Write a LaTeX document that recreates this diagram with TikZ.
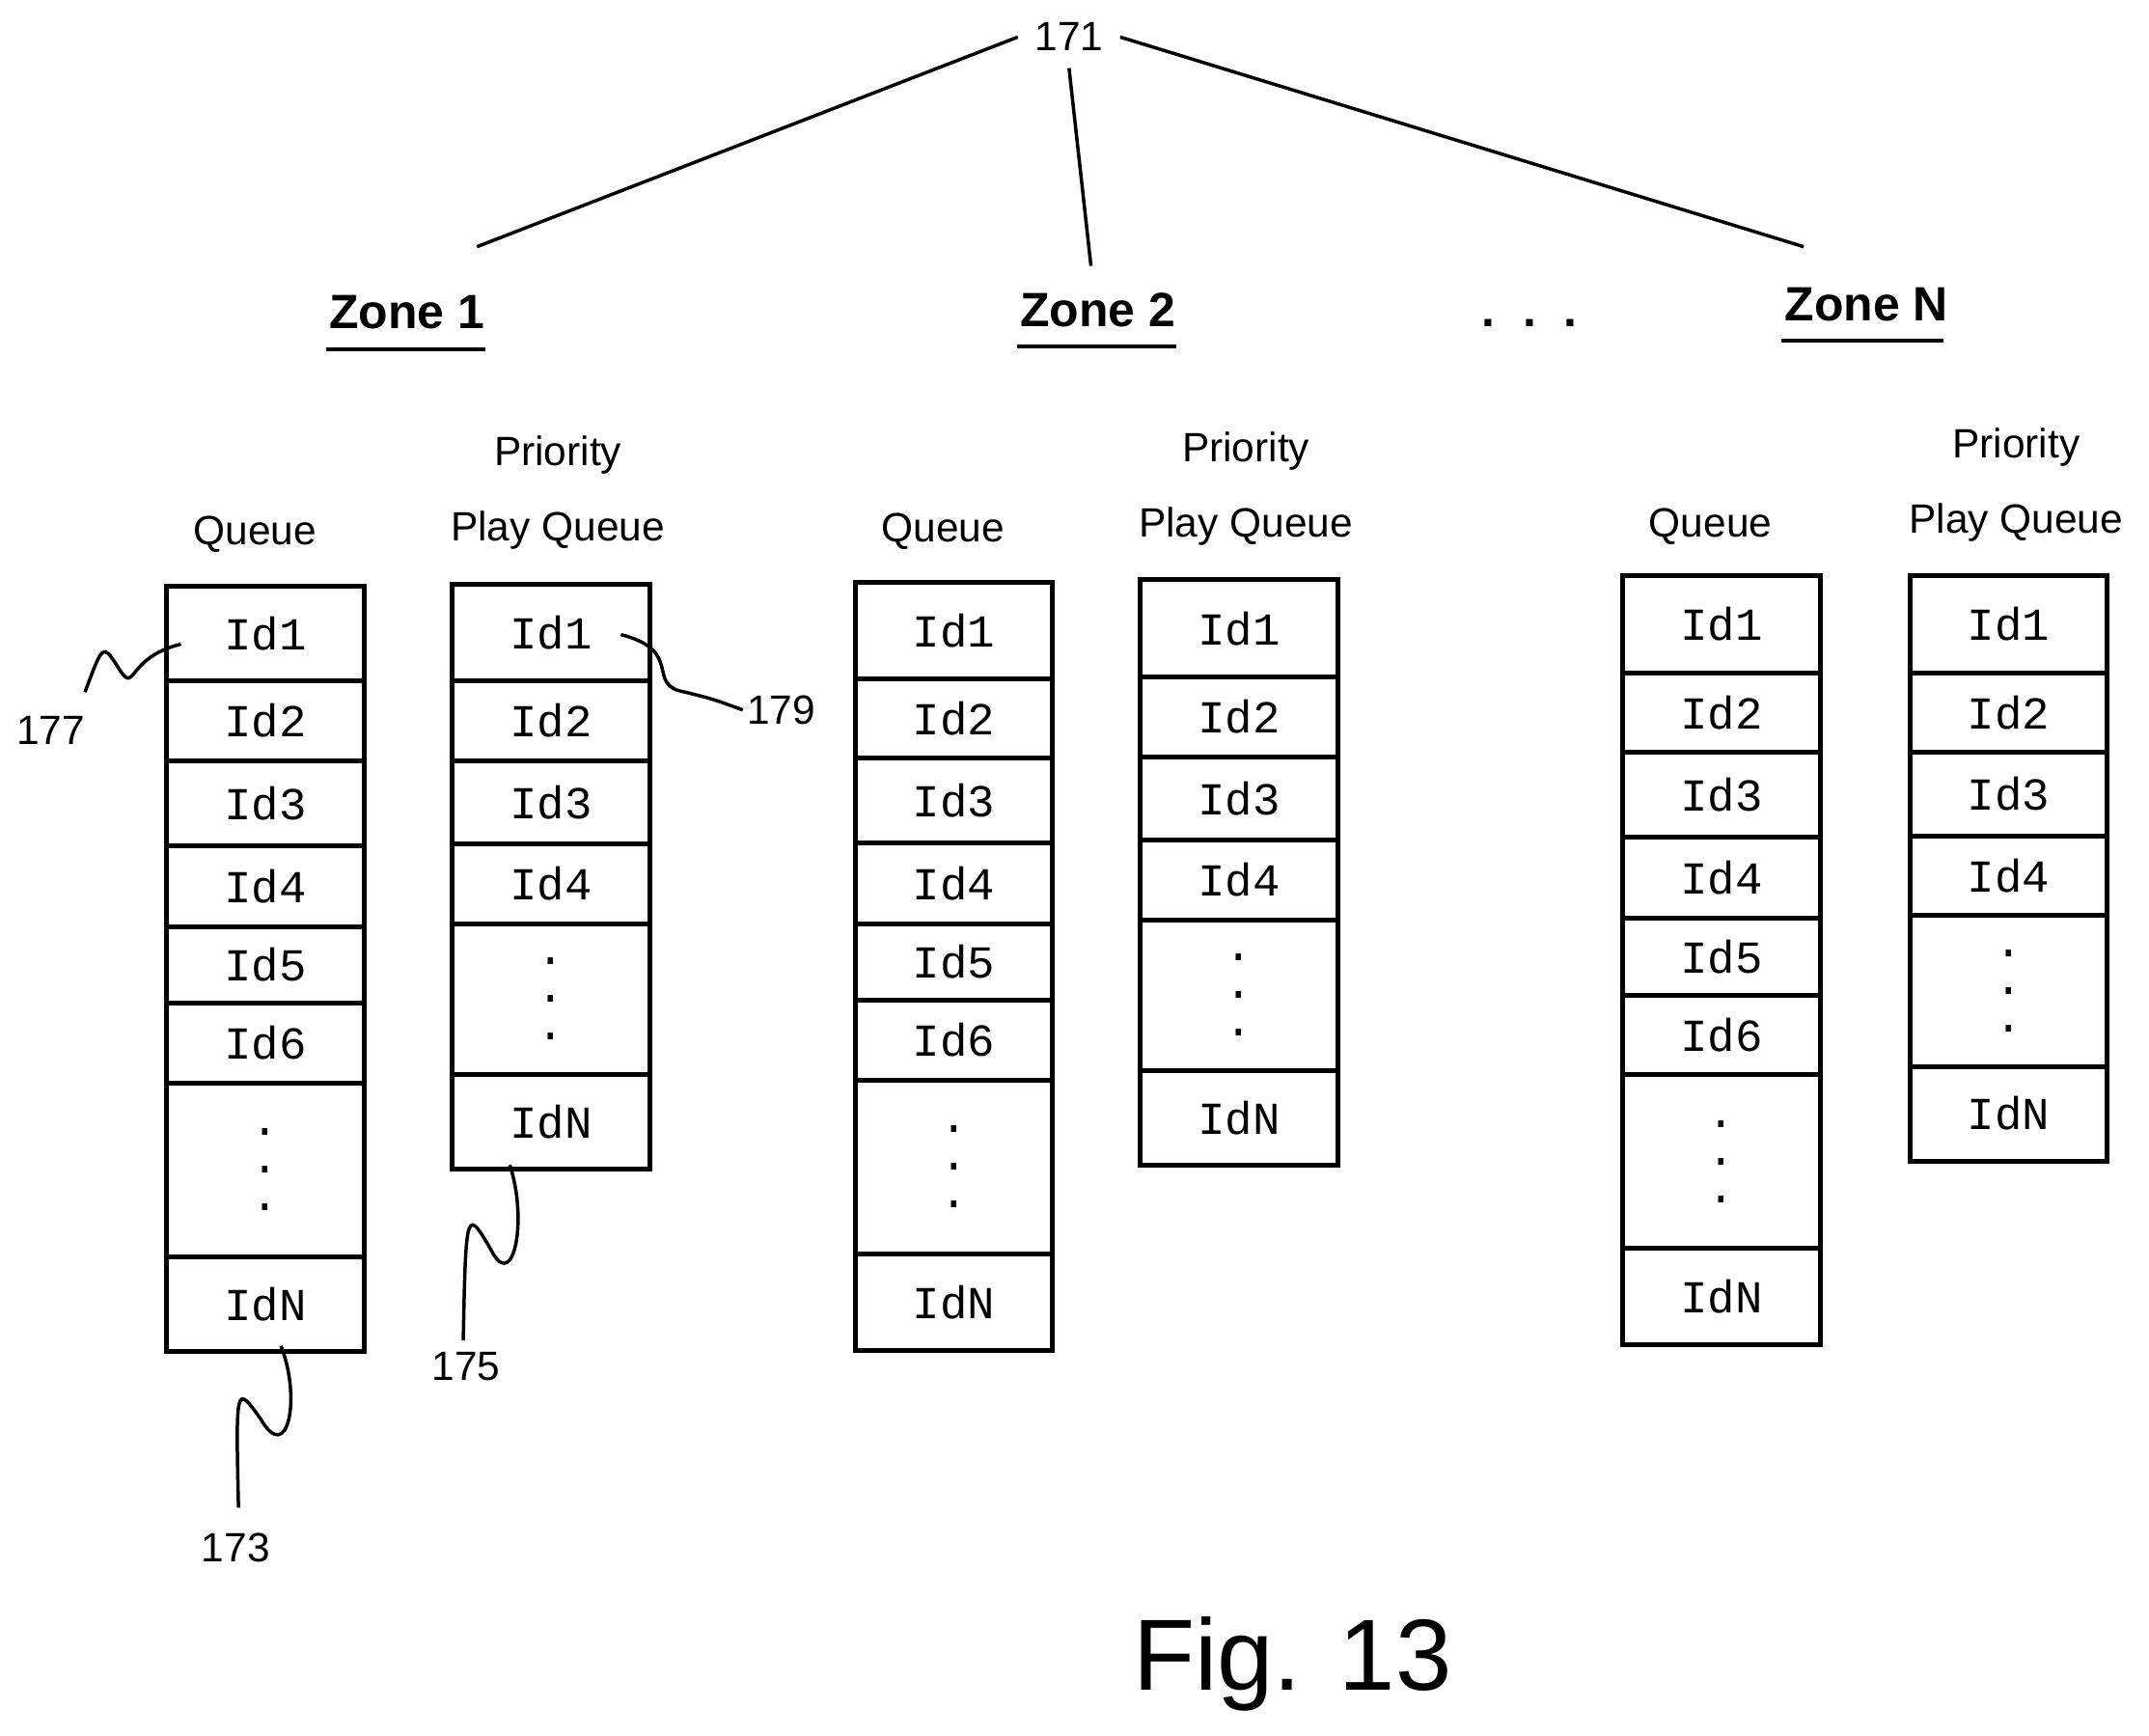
\documentclass[tikz,border=0pt]{standalone}
\usepackage{fontspec}
\setmainfont{Liberation Sans}
\newfontfamily\idfont{Liberation Mono}
\usetikzlibrary{positioning}
\tikzset{cell/.style={draw,line width=1pt,minimum width=1.44cm,inner sep=0pt,outer sep=0pt,font=\idfont\fontsize{9.5}{10}\selectfont},
  lbl/.style={font=\fontsize{8.5}{10}\selectfont},
  zone/.style={font=\bfseries\fontsize{10}{12}\selectfont},
  lead/.style={line width=0.7pt}}
\newcommand{\dts}{\shortstack{.\\[1.2mm].\\[1.2mm].}}
% column of cells: name, x, top, list of label/height
\newcommand{\qcol}[4]{%
  \coordinate (#1-b0) at (#2,#3);
  \foreach \lab/\h [count=\i, remember=\i as \j (initially 0)] in {#4}{
    \node[cell,minimum height=\h cm,anchor=north] (#1-\i) at (#1-b\j) {\lab};
    \coordinate (#1-b\i) at (#1-\i.south);}}
\begin{document}
\begin{tikzpicture}
\useasboundingbox (0,0) rectangle (15.68,-12.66);

		% top label and zones
		\node[lbl] (n171) at (7.80,-0.27) {171};
		\node[zone] (z1) at (2.97,-2.28) {Zone 1};
		\node[zone] (z2) at (8.01,-2.26) {Zone 2};
		\node[zone] (zn) at (13.62,-2.22) {Zone N};
		\node[zone] (zdots) at (11.16,-2.36) {.\hspace{2mm}.\hspace{2mm}.};
		\draw[line width=0.8pt] (z1.south west) ++(0.1,-0.02) -- ++(1.16,0);
		\draw[line width=0.8pt] (z2.south west) ++(0.1,-0.02) -- ++(1.16,0);
		\draw[line width=0.8pt] (zn.south west) ++(0.1,-0.02) -- ++(1.18,0);
		\draw[lead] (n171.west) -- (3.48,-1.80);
		\draw[lead] (n171.south) -- (7.96,-1.94);
		\draw[lead] (n171.east) -- (13.16,-1.80);

		% column headings
		\foreach \x/\y in {1.86/3.90,6.88/3.88,12.48/3.84}
			\node[lbl] at (\x,-\y) {Queue};
		\foreach \x/\y in {4.07/3.32,9.09/3.29,14.71/3.26}{
			\node[lbl] at (\x,-\y) {Priority};
			\node[lbl] at (\x,-\y-0.55) {Play Queue};}

		% queues
		\qcol{qa}{1.935}{-4.28}{Id1/0.69,Id2/0.58,Id3/0.62,Id4/0.59,Id5/0.56,Id6/0.58,\dts/1.27,IdN/0.69}
		\qcol{pa}{4.02}{-4.26}{Id1/0.71,Id2/0.58,Id3/0.61,Id4/0.58,\dts/1.10,IdN/0.69}
		\qcol{qb}{6.96}{-4.25}{Id1/0.70,Id2/0.58,Id3/0.62,Id4/0.59,Id5/0.56,Id6/0.58,\dts/1.27,IdN/0.70}
		\qcol{pb}{9.04}{-4.23}{Id1/0.71,Id2/0.58,Id3/0.61,Id4/0.58,\dts/1.10,IdN/0.69}
		\qcol{qc}{12.56}{-4.20}{Id1/0.71,Id2/0.58,Id3/0.62,Id4/0.59,Id5/0.56,Id6/0.58,\dts/1.27,IdN/0.70}
		\qcol{pc}{14.655}{-4.20}{Id1/0.71,Id2/0.58,Id3/0.61,Id4/0.58,\dts/1.10,IdN/0.69}

		% reference numerals
		\node[lbl] (n177) at (0.37,-5.33) {177};
		\node[lbl] (n179) at (5.70,-5.18) {179};
		\node[lbl] (n175) at (3.40,-9.97) {175};
		\node[lbl] (n173) at (1.72,-11.29) {173};
		\coordinate (c177) at (1.32,-4.70);
		\coordinate (c179) at (4.53,-4.63);
		\coordinate (c175) at (3.72,-8.50);
		\coordinate (c173) at (2.05,-9.82);
		\draw[lead] (c177) .. controls (0.9,-4.8) and (1.0,-5.1) .. (0.85,-4.85)
			.. controls (0.75,-4.7) .. (0.62,-5.05);
		\draw[lead] (c179) .. controls (5.0,-4.75) and (4.7,-5.0) .. (5.0,-5.05)
			.. controls (5.2,-5.1) .. (5.42,-5.18);
		\draw[lead] (c175) .. controls (3.85,-8.9) and (3.75,-9.4) .. (3.6,-9.15)
			.. controls (3.4,-8.8) .. (3.38,-9.78);
		\draw[lead] (c173) .. controls (2.2,-10.2) and (2.1,-10.7) .. (1.9,-10.35)
			.. controls (1.72,-10.1) .. (1.74,-11.0);

		\node[font=\fontsize{21}{25}\selectfont] (fig) at (9.43,-12.14) {Fig. 13};
		\end{tikzpicture}
\end{document}
